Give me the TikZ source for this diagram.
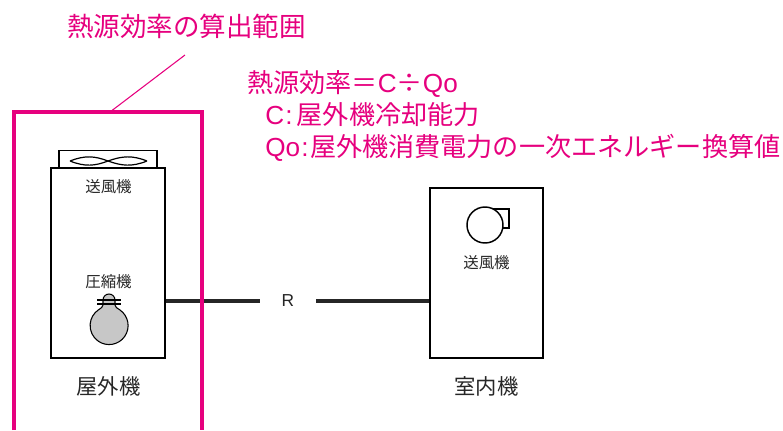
\documentclass[tikz,border=0pt]{standalone}
\usepackage{fontspec}
\setmainfont{Noto Sans CJK JP}
\newfontfamily\latinfont{Liberation Sans}
\definecolor{pinkline}{RGB}{230,0,126}
\begin{document}
\begin{tikzpicture}[x=0.75pt,y=-0.75pt,
unitbox/.style={rectangle,draw,line width=1.1pt,fill=white,inner sep=0pt},
pinktext/.style={text=pinkline,anchor=west,inner sep=0pt,font=\fontsize{19.6pt}{20pt}\selectfont},
smalltext/.style={inner sep=0pt,font=\fontsize{11.6pt}{12pt}\selectfont,text=black!85},
unitname/.style={inner sep=0pt,font=\fontsize{16pt}{16pt}\selectfont,text=black!85},
pipe/.style={every edge/.style={draw,line width=2.3pt,black!85}}]
\useasboundingbox (0,0) rectangle (783,430);
% pink frame
\coordinate (FA) at (14,430);
\coordinate (FB) at (14,112);
\coordinate (FC) at (202,112);
\coordinate (FD) at (202,430);
\coordinate (LA) at (185,55);
\coordinate (LB) at (110,112);
% units
\node[unitbox, minimum width=73.5pt, minimum height=13.5pt] (fanbox) at (108,159.5) {};
\node[unitbox, minimum width=85.5pt, minimum height=142.5pt] (outdoor) at (108,263) {};
\node[unitbox, minimum width=85pt, minimum height=127.5pt] (indoor) at (486.5,273) {};
% texts
\node[pinktext,font=\fontsize{19.9pt}{20pt}\selectfont] (title) at (67,26) {熱源効率の算出範囲};
\node[pinktext] (formula) at (247,84) {熱源効率＝{\latinfont C}÷{\latinfont Qo}};
\node[pinktext] (lineC) at (265,115) {{\latinfont C\hspace{1pt}:}\hspace{3pt}屋外機冷却能力};
\node[pinktext] (lineQ) at (265,148) {{\latinfont Qo\hspace{1pt}:}\hspace{1pt}屋外機消費電力の一次エネルギー換算値};
\node[smalltext] (fanA) at (108.5,187) {送風機};
\node[smalltext] (comp) at (108.5,282) {圧縮機};
\node[smalltext] (fanB) at (486.5,263) {送風機};
\node[unitname] (outname) at (108.5,386) {屋外機};
\node[unitname] (inname) at (486.5,386) {室内機};
\node[minimum width=42pt,inner sep=0pt,font=\latinfont\fontsize{13pt}{13pt}\selectfont,text=black!85] (R) at (288,301) {R};
% pipe
\path[pipe]
(outdoor.east |- R) edge (R)
(R) edge (indoor.west |- R);
\draw[pinkline,line width=2.3pt] (FA) -- (FB) -- (FC) -- (FD);
\draw[pinkline,line width=0.8pt] (LA) -- (LB);
% fan in the outdoor unit
\draw[line width=0.9pt] (70,161) .. controls (85,155) and (95,156) .. (108,161) .. controls (95,166) and (85,167) .. (70,161);
\draw[line width=0.9pt] (147,161) .. controls (132,155) and (122,156) .. (108,161) .. controls (122,166) and (132,167) .. (147,161);
% compressor
\draw[fill=black!22,line width=0.8pt] (103,305) -- (103,300) arc (180:360:6) -- (115,305) .. controls (115,307) and (117,308) .. (120,310) arc (-55:235:19) .. controls (101,308) and (103,307) .. (103,305);
\draw[line width=0.8pt] (97,300) -- (121,300);
\draw[line width=0.8pt] (97,304) -- (121,304);
% fan in the indoor unit
\draw[line width=1pt] (485,209) rectangle (509,228);
\node[circle,draw,line width=1.1pt,fill=white,minimum size=27pt,inner sep=0pt] (fancircle) at (485,225) {};
\end{tikzpicture}
\end{document}
